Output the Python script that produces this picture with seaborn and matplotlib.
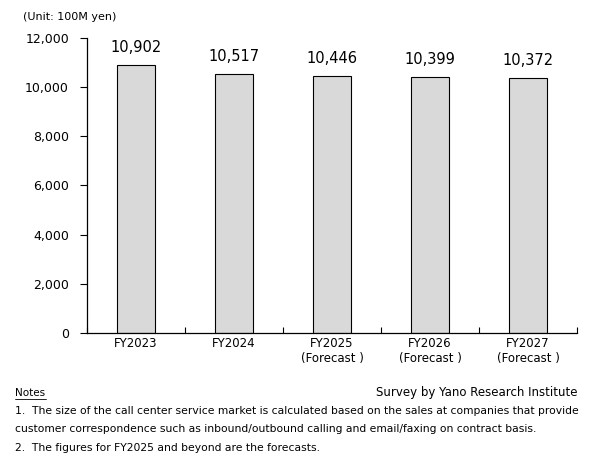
import matplotlib
matplotlib.use("Agg")
import matplotlib.pyplot as plt
import seaborn as sns
import pandas as pd
import numpy as np

years = ["FY2023", "FY2024", "FY2025\n(Forecast )", "FY2026\n(Forecast )", "FY2027\n(Forecast )"]
sizes = [10902, 10517, 10446, 10399, 10372]

sns.set_style("ticks")
plt.rcParams["font.family"] = ["DejaVu Sans"]
plt.rcParams["text.color"] = "black"
plt.rcParams["xtick.color"] = "black"
plt.rcParams["ytick.color"] = "black"
plt.rcParams["axes.edgecolor"] = "black"

df = pd.DataFrame({"year": years, "size": sizes})

fig = plt.figure(figsize=(6, 4.58), dpi=100)
ax = fig.add_axes([0.145, 0.273, 0.817, 0.644])

sns.barplot(data=df, x="year", y="size", color="#d9d9d9", edgecolor="black",
            linewidth=0.8, width=0.39, saturation=1, ax=ax)

for i, v in enumerate(sizes):
    ax.text(i, v + 420, f"{v:,}", ha="center", va="bottom", fontsize=10.5)

ax.set_ylim(0, 12000)
ax.set_xlim(-0.5, len(years) - 0.5)
ax.set_yticks(np.arange(0, 12001, 2000))
ax.yaxis.set_major_formatter(matplotlib.ticker.StrMethodFormatter("{x:,.0f}"))
ax.tick_params(axis="y", labelsize=9, length=5, width=0.8, pad=8)
ax.tick_params(axis="x", which="major", labelsize=8.5, length=0, pad=3)
ax.set_xticks(np.arange(-0.5, len(years), 1), minor=True)
ax.tick_params(axis="x", which="minor", direction="in", length=4, width=0.8)
ax.set_xlabel("")
ax.set_ylabel("")
for s in ["top", "right"]:
    ax.spines[s].set_visible(False)
for s in ["left", "bottom"]:
    ax.spines[s].set_linewidth(0.9)

fig.text(0.038, 0.962, "(Unit: 100M yen)", fontsize=8, va="center")
fig.text(0.025, 0.142, "Notes", fontsize=7.5, va="center")
fig.add_artist(plt.Line2D([0.025, 0.077], [0.129, 0.129], color="black", lw=0.6))
fig.text(0.962, 0.142, "Survey by Yano Research Institute", fontsize=8.5, va="center", ha="right")
fig.text(0.025, 0.103, "1.  The size of the call center service market is calculated based on the sales at companies that provide",
         fontsize=7.75, va="center")
fig.text(0.025, 0.064, "customer correspondence such as inbound/outbound calling and email/faxing on contract basis.",
         fontsize=7.75, va="center")
fig.text(0.025, 0.022, "2.  The figures for FY2025 and beyond are the forecasts.", fontsize=7.75, va="center")

fig.savefig("out.png", dpi=100)
